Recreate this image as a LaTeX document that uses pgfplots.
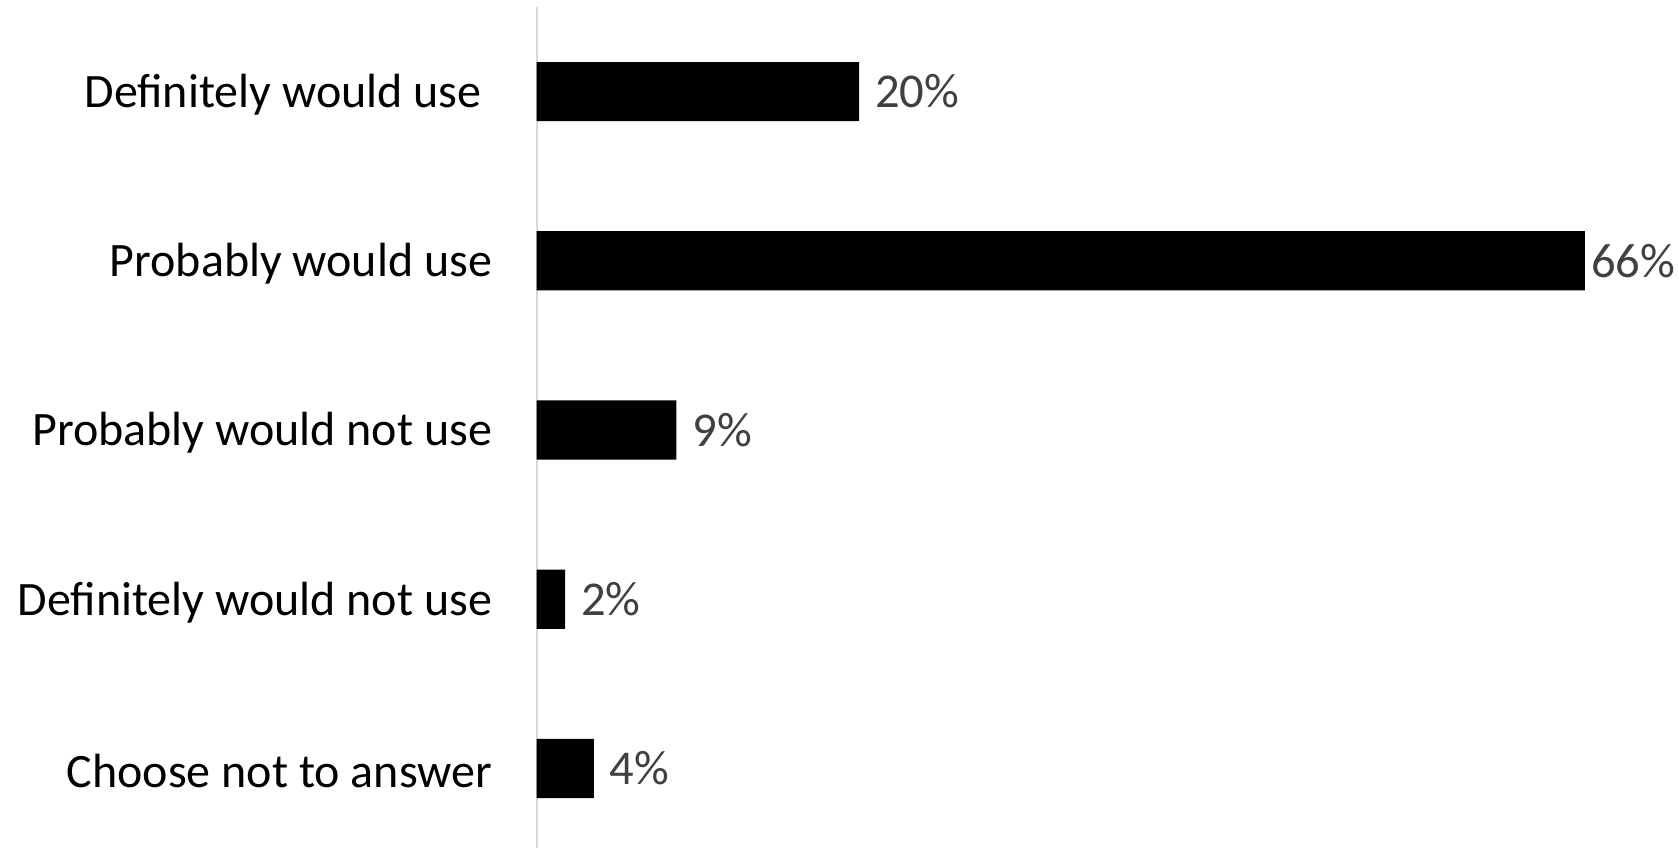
\documentclass[border=0pt]{standalone}
\usepackage{fontspec}
\setmainfont{Carlito}
\usepackage{pgfplots}
\usepackage{pgfplotstable}
\pgfplotsset{compat=1.18}
\definecolor{lblgray}{HTML}{404040}
\definecolor{axgray}{HTML}{D9D9D9}
\pgfplotstableread{
y val lab sh
0 20.3 20 0
1 66.0 66 -4.8
2 8.8 9 0
3 1.8 2 0
4 3.6 4 0
}\datatable
\begin{document}
\begin{tikzpicture}
\begin{axis}[at={(0,0)}, anchor=south west, scale only axis, width=555.9pt, height=423pt,
 xbar, xmin=0, xmax=70, ymin=-0.5, ymax=4.5, y dir=reverse,
 bar width=29.6pt,
 axis x line=none, axis y line=left, axis line style={draw=axgray, line width=1pt, -},
 ytick={0,...,4},
 yticklabels={Definitely would use\kern5.3pt, Probably would use, Probably would not use, Definitely would not use, Choose not to answer},
 major tick length=0pt,
 yticklabel style={font=\fontsize{24}{29}\selectfont, inner sep=0pt, xshift=-22pt, yshift=-1.5pt},
 visualization depends on={\thisrow{sh} \as \lblshift},
 nodes near coords={\pgfplotspointmeta\%}, point meta=explicit symbolic,
 nodes near coords style={font=\fontsize{24.3}{29}\selectfont, text=lblgray, anchor=west, inner sep=0pt, xshift=7.8pt+\lblshift pt},
 clip=false]
\addplot[fill=black, draw=none] table[x=val, y=y, meta=lab]{\datatable};
\end{axis}
\pgfresetboundingbox
\path[use as bounding box] (-268.3pt,3pt) rectangle (571.2pt,426.5pt);
\end{tikzpicture}
\end{document}
